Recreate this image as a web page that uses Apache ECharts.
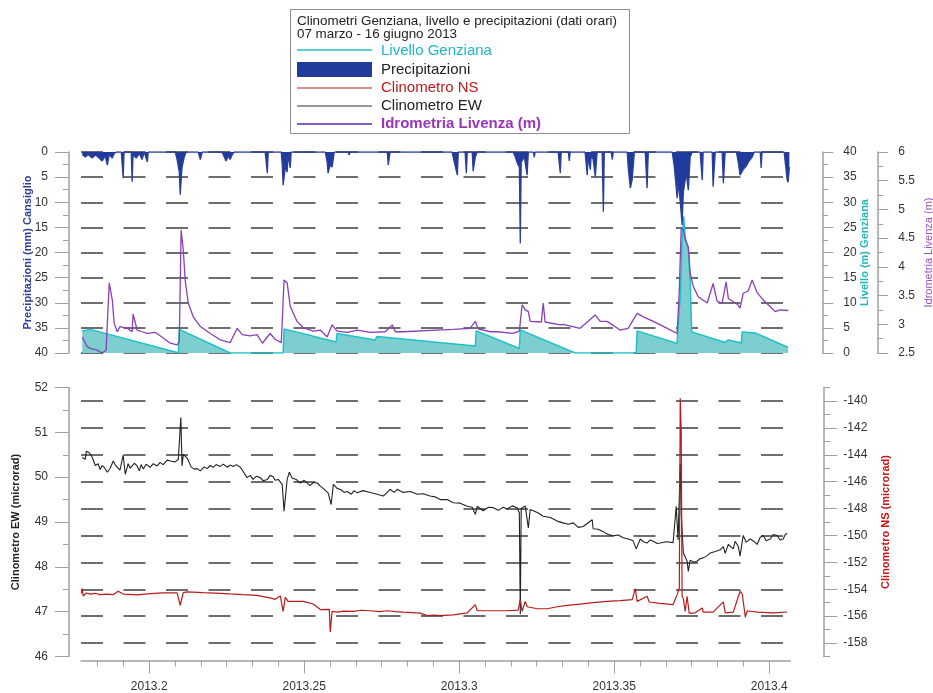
<!DOCTYPE html>
<html><head><meta charset="utf-8">
<script src="https://cdn.jsdelivr.net/npm/echarts@6/dist/echarts.min.js"></script>
<style>html,body{margin:0;padding:0;background:#fff}#c{width:933px;height:693px}</style>
</head><body><div id="c"></div>
<script>
// ---------- DATA (x = decimal year) ----------
const xTickLabels = [2013.2, 2013.25, 2013.3, 2013.35, 2013.4];
const precipTicks = [0, 5, 10, 15, 20, 25, 30, 35, 40];
const nsLabelValues = [-158, -156, -154, -152, -150, -148, -146, -144, -142, -140];

const livelloGenziana = [
[2013.1784,4.4],[2013.1810,4.7],[2013.2084,0.2],[2013.2094,0],[2013.2097,4.7],[2013.2261,0],[2013.2432,0],[2013.2435,4.8],
[2013.2603,2.2],[2013.2606,3.9],[2013.2729,2.6],[2013.2735,3.3],[2013.3052,1.4],[2013.3055,4.4],[2013.3194,0.9],[2013.3197,4.6],
[2013.3374,0],[2013.3571,0],[2013.3574,4.4],[2013.3703,1.9],[2013.3706,5.2],[2013.3713,11.2],[2013.3719,22.5],[2013.3724,27.2],
[2013.3729,23],[2013.3739,20.5],[2013.3745,14.5],[2013.3750,4.2],[2013.3858,2.1],[2013.3868,2.6],[2013.3874,2.3],[2013.3910,2.0],
[2013.3913,4.2],[2013.3955,4.0],[2013.4061,1.1]
];

const precipitazioni = [
[2013.1784,0.5],[2013.1794,1.0],[2013.1803,0.5],[2013.1816,1.2],[2013.1826,0.6],[2013.1835,1.0],[2013.1848,1.8],[2013.1858,0.8],
[2013.1865,2.6],[2013.1871,0.5],[2013.1881,1.2],[2013.1887,0.3],[2013.1894,0],[2013.1910,0],[2013.1916,5.2],[2013.1919,0],
[2013.1942,0],[2013.1945,5.9],[2013.1948,0.5],[2013.1958,1.2],[2013.1968,0.3],[2013.1977,1.5],[2013.1984,0],[2013.1990,0],
[2013.1994,2],[2013.1997,0],[2013.2084,0],[2013.2090,1.5],[2013.2097,4],[2013.2100,8.5],[2013.2106,3],[2013.2113,1],[2013.2119,0],
[2013.2158,0],[2013.2165,1.5],[2013.2171,0],[2013.2235,0],[2013.2242,1],[2013.2248,1.8],[2013.2255,0.8],[2013.2261,1.5],
[2013.2268,0.5],[2013.2274,0],[2013.2374,0],[2013.2381,4.2],[2013.2384,0],[2013.2426,0],[2013.2429,2.5],[2013.2432,6.6],
[2013.2439,3],[2013.2445,4],[2013.2448,0.5],[2013.2455,3.2],[2013.2458,0],[2013.2568,0],[2013.2574,2],[2013.2577,4.2],
[2013.2584,2.5],[2013.2590,3],[2013.2597,0],[2013.2642,0],[2013.2645,0.6],[2013.2648,0],[2013.2768,0],[2013.2771,2.6],
[2013.2777,0],[2013.2977,0],[2013.2984,2],[2013.2994,4.6],[2013.2997,0],[2013.3019,0],[2013.3023,4.2],[2013.3026,0],
[2013.3042,0],[2013.3045,3.8],[2013.3052,1],[2013.3058,0],[2013.3174,0],[2013.3181,1],[2013.3187,2.2],[2013.3194,3],
[2013.3197,18.2],[2013.3200,2],[2013.3210,1],[2013.3219,4.6],[2013.3223,0],[2013.3239,0],[2013.3242,1],[2013.3245,0],
[2013.3319,0],[2013.3326,4.2],[2013.3329,0],[2013.3352,0],[2013.3355,1.8],[2013.3358,0],[2013.3406,0],[2013.3413,4.6],
[2013.3416,1],[2013.3423,3.5],[2013.3426,0.5],[2013.3432,1.5],[2013.3439,4.9],[2013.3445,0],[2013.3461,0],[2013.3465,11.9],
[2013.3468,0],[2013.3490,0],[2013.3494,1.5],[2013.3497,0],[2013.3542,0],[2013.3545,3],[2013.3552,7.2],[2013.3558,5.5],
[2013.3565,0],[2013.3600,0],[2013.3606,7.2],[2013.3610,0],[2013.3687,0],[2013.3694,3],[2013.3703,9.2],[2013.3706,6],
[2013.3713,9.9],[2013.3719,14.5],[2013.3723,8],[2013.3729,5.6],[2013.3732,4],[2013.3739,7.6],[2013.3745,1],[2013.3752,0],
[2013.3777,0],[2013.3784,5.6],[2013.3787,0],[2013.3816,0],[2013.3819,6.9],[2013.3826,0],[2013.3848,0],[2013.3852,6.2],
[2013.3858,0],[2013.3894,0],[2013.3900,2],[2013.3906,4.6],[2013.3916,3.5],[2013.3926,2.8],[2013.3935,1.8],[2013.3945,1],
[2013.3952,0],[2013.3971,0],[2013.3974,3.2],[2013.3977,0],[2013.4048,0],[2013.4058,5.6],[2013.4061,6],[2013.4065,3]
];

const idrometriaLivenza = [
[2013.1784,2.78],[2013.1800,2.61],[2013.1810,2.58],[2013.1832,2.55],[2013.1848,2.5],[2013.1861,2.55],[2013.1871,3.72],[2013.1881,3.42],
[2013.1887,3.02],[2013.1897,2.87],[2013.1906,2.96],[2013.1929,2.93],[2013.1945,2.87],[2013.1948,3.18],[2013.1961,2.9],[2013.1977,2.87],
[2013.1994,2.84],[2013.2019,2.86],[2013.2035,2.8],[2013.2068,2.67],[2013.2090,2.64],[2013.2097,2.7],[2013.2103,4.64],[2013.2110,4.29],
[2013.2116,3.77],[2013.2126,3.37],[2013.2142,3.13],[2013.2165,2.96],[2013.2197,2.84],[2013.2229,2.73],[2013.2261,2.68],[2013.2284,2.93],
[2013.2300,2.82],[2013.2326,2.8],[2013.2348,2.82],[2013.2365,2.67],[2013.2390,2.84],[2013.2406,2.74],[2013.2426,2.68],[2013.2435,3.77],
[2013.2445,3.72],[2013.2455,3.31],[2013.2477,3.05],[2013.2497,2.94],[2013.2529,2.88],[2013.2552,2.9],[2013.2574,2.78],[2013.2590,2.99],
[2013.2606,2.88],[2013.2639,2.86],[2013.2671,2.9],[2013.2713,2.86],[2013.2761,2.87],[2013.2784,2.99],[2013.2794,2.87],[2013.2819,2.87],
[2013.2929,2.9],[2013.2981,2.91],[2013.3035,2.93],[2013.3052,3.05],[2013.3061,2.92],[2013.3100,2.87],[2013.3123,2.87],[2013.3174,2.84],
[2013.3194,2.88],[2013.3203,3.34],[2013.3213,3.25],[2013.3223,3.22],[2013.3229,3.05],[2013.3265,3.04],[2013.3271,3.37],[2013.3277,3.04],
[2013.3326,2.99],[2013.3335,3.0],[2013.3390,2.93],[2013.3439,3.16],[2013.3455,3.05],[2013.3477,3.05],[2013.3519,2.9],[2013.3545,2.93],
[2013.3574,3.19],[2013.3594,3.13],[2013.3626,3.05],[2013.3671,2.93],[2013.3703,2.84],[2013.3710,3.6],[2013.3716,4.67],[2013.3723,4.65],
[2013.3729,4.47],[2013.3739,4.35],[2013.3745,3.89],[2013.3755,3.66],[2013.3771,3.48],[2013.3800,3.37],[2013.3819,3.71],[2013.3832,3.4],
[2013.3848,3.37],[2013.3861,3.74],[2013.3868,3.45],[2013.3897,3.35],[2013.3906,3.28],[2013.3916,3.54],[2013.3932,3.58],[2013.3945,3.77],
[2013.3961,3.55],[2013.3981,3.42],[2013.4003,3.31],[2013.4019,3.22],[2013.4035,3.25],[2013.4061,3.24]
];

const clinometroEW = [
[2013.1784,50.44],[2013.1794,50.40],[2013.1797,50.58],[2013.1806,50.55],[2013.1816,50.45],[2013.1826,50.26],[2013.1835,50.30],[2013.1842,50.17],
[2013.1848,50.26],[2013.1855,50.22],[2013.1865,50.11],[2013.1874,50.20],[2013.1884,50.36],[2013.1890,50.28],[2013.1897,50.22],[2013.1906,50.16],
[2013.1916,50.49],[2013.1923,50.06],[2013.1932,50.30],[2013.1939,50.20],[2013.1945,50.16],[2013.1952,50.31],[2013.1961,50.25],[2013.1968,50.14],
[2013.1974,50.28],[2013.1981,50.18],[2013.1990,50.29],[2013.2003,50.22],[2013.2013,50.30],[2013.2026,50.25],[2013.2035,50.33],[2013.2045,50.28],
[2013.2058,50.38],[2013.2068,50.36],[2013.2084,50.34],[2013.2094,50.40],[2013.2100,50.38],[2013.2102,51.33],[2013.2106,50.25],[2013.2110,50.51],
[2013.2123,50.42],[2013.2135,50.23],[2013.2145,50.18],[2013.2155,50.19],[2013.2165,50.14],[2013.2177,50.23],[2013.2187,50.19],[2013.2197,50.26],
[2013.2206,50.22],[2013.2216,50.28],[2013.2229,50.24],[2013.2239,50.29],[2013.2252,50.22],[2013.2261,50.27],[2013.2271,50.24],[2013.2281,50.28],
[2013.2294,50.22],[2013.2300,50.20],[2013.2316,49.99],[2013.2326,50.04],[2013.2335,49.95],[2013.2345,50.02],[2013.2358,49.99],[2013.2368,49.92],
[2013.2381,49.95],[2013.2390,50.04],[2013.2400,50.01],[2013.2406,49.93],[2013.2416,49.95],[2013.2429,49.84],[2013.2435,49.24],[2013.2445,49.95],
[2013.2452,50.11],[2013.2461,49.98],[2013.2474,49.95],[2013.2487,49.87],[2013.2500,49.93],[2013.2519,49.81],[2013.2529,49.88],[2013.2542,49.87],
[2013.2552,49.80],[2013.2561,49.75],[2013.2577,49.65],[2013.2587,49.39],[2013.2594,49.84],[2013.2606,49.75],[2013.2619,49.72],[2013.2629,49.66],
[2013.2639,49.68],[2013.2652,49.62],[2013.2661,49.70],[2013.2671,49.65],[2013.2690,49.70],[2013.2713,49.66],[2013.2735,49.62],[2013.2755,49.58],
[2013.2765,49.64],[2013.2777,49.73],[2013.2790,49.66],[2013.2800,49.73],[2013.2819,49.66],[2013.2842,49.68],[2013.2865,49.62],[2013.2884,49.63],
[2013.2906,49.58],[2013.2923,49.56],[2013.2939,49.50],[2013.2961,49.50],[2013.2981,49.43],[2013.3003,49.42],[2013.3026,49.35],[2013.3042,49.33],
[2013.3052,49.17],[2013.3058,49.35],[2013.3077,49.25],[2013.3094,49.33],[2013.3110,49.32],[2013.3126,49.26],[2013.3142,49.33],[2013.3155,49.29],
[2013.3171,49.36],[2013.3187,49.32],[2013.3194,49.2],[2013.3197,46.94],[2013.3200,49.3],[2013.3213,49.36],[2013.3223,48.87],[2013.3229,49.28],
[2013.3252,49.21],[2013.3271,49.13],[2013.3294,49.10],[2013.3316,49.02],[2013.3335,48.98],[2013.3352,48.95],[2013.3368,48.98],[2013.3384,48.88],
[2013.3400,48.90],[2013.3429,49.05],[2013.3432,48.85],[2013.3448,48.84],[2013.3465,48.78],[2013.3481,48.72],[2013.3497,48.69],[2013.3513,48.71],
[2013.3529,48.65],[2013.3545,48.62],[2013.3561,48.58],[2013.3571,48.40],[2013.3584,48.62],[2013.3594,48.56],[2013.3606,48.53],[2013.3616,48.60],
[2013.3626,48.57],[2013.3639,48.52],[2013.3648,48.53],[2013.3668,48.56],[2013.3690,48.54],[2013.3700,49.35],[2013.3706,48.60],[2013.3713,50.30],
[2013.3716,49.20],[2013.3723,48.31],[2013.3735,48.13],[2013.3739,47.90],[2013.3745,48.15],[2013.3758,48.10],[2013.3768,48.13],[2013.3777,48.18],
[2013.3787,48.20],[2013.3800,48.25],[2013.3810,48.31],[2013.3826,48.34],[2013.3842,48.38],[2013.3852,48.45],[2013.3858,48.30],[2013.3868,48.50],
[2013.3874,48.48],[2013.3884,48.40],[2013.3890,48.57],[2013.3900,48.46],[2013.3906,48.24],[2013.3916,48.70],[2013.3926,48.55],[2013.3939,48.62],
[2013.3952,48.56],[2013.3961,48.50],[2013.3971,48.66],[2013.3981,48.70],[2013.3990,48.58],[2013.4003,48.62],[2013.4013,48.72],[2013.4026,48.70],
[2013.4035,48.60],[2013.4045,48.62],[2013.4052,48.72],[2013.4058,48.75]
];

const clinometroNS = [
[2013.1781,-154.3],[2013.1784,-153.95],[2013.1787,-154.5],[2013.1797,-154.28],[2013.1810,-154.36],[2013.1826,-154.3],[2013.1842,-154.4],
[2013.1865,-154.36],[2013.1884,-154.40],[2013.1900,-154.15],[2013.1916,-154.36],[2013.1961,-154.42],[2013.2003,-154.32],[2013.2045,-154.27],
[2013.2090,-154.27],[2013.2100,-155.19],[2013.2110,-154.25],[2013.2123,-154.2],[2013.2174,-154.25],[2013.2229,-154.3],[2013.2261,-154.35],
[2013.2303,-154.4],[2013.2348,-154.45],[2013.2390,-154.64],[2013.2406,-154.75],[2013.2423,-154.5],[2013.2432,-155.64],[2013.2439,-154.6],
[2013.2448,-154.9],[2013.2497,-154.9],[2013.2529,-155.1],[2013.2552,-155.51],[2013.2581,-155.5],[2013.2584,-157.17],[2013.2590,-155.64],
[2013.2606,-155.7],[2013.2629,-155.62],[2013.2658,-155.64],[2013.2684,-155.56],[2013.2713,-155.60],[2013.2742,-155.66],[2013.2768,-155.60],
[2013.2794,-155.66],[2013.2819,-155.7],[2013.2848,-155.74],[2013.2874,-155.78],[2013.2897,-155.96],[2013.2919,-155.92],
[2013.2939,-155.96],[2013.2981,-155.9],[2013.3026,-155.75],[2013.3052,-155.14],[2013.3058,-155.6],[2013.3100,-155.6],[2013.3155,-155.6],
[2013.3190,-155.55],[2013.3197,-154.77],[2013.3203,-155.65],[2013.3213,-154.9],[2013.3219,-155.3],[2013.3252,-155.45],[2013.3284,-155.45],
[2013.3316,-155.3],[2013.3348,-155.2],[2013.3390,-155.1],[2013.3432,-155.0],[2013.3477,-154.9],[2013.3519,-154.85],[2013.3558,-154.77],
[2013.3568,-153.95],[2013.3574,-154.9],[2013.3606,-154.52],[2013.3613,-154.95],[2013.3648,-155.05],[2013.3690,-155.14],[2013.3703,-154.4],
[2013.3710,-153.9],[2013.3713,-139.8],[2013.3716,-142.2],[2013.3719,-154.5],[2013.3723,-154.7],[2013.3729,-155.64],[2013.3735,-154.52],
[2013.3742,-155.8],[2013.3761,-155.75],[2013.3784,-155.39],[2013.3787,-155.7],[2013.3819,-155.7],[2013.3852,-154.94],[2013.3858,-155.75],
[2013.3884,-155.7],[2013.3906,-154.15],[2013.3913,-154.35],[2013.3923,-156.08],[2013.3929,-155.6],[2013.3961,-155.7],[2013.4013,-155.75],
[2013.4058,-155.69]
];

// ---------- CHART ----------
const XMIN = 2013.178, XMAX = 2013.4068;
const FONT = 'Liberation Sans, Arial, sans-serif';
const AX = '#a0a0a0';
const GRID_DASH = { type: [22, 20.5], color: '#6e6e6e', width: 1.8 };

const xMinor = [];
for (let k = -3; k <= 25; k++) {
  const v = +(2013.2 + k * 0.05 / 6).toFixed(5);
  if (v >= XMIN && v <= XMAX) xMinor.push(v);
}
const nsEven = nsLabelValues;

const lbl = { color: '#333', fontSize: 12, fontFamily: FONT };

const chart = echarts.init(document.getElementById('c'), null, { renderer: 'canvas' });
chart.setOption({
  animation: false,
  backgroundColor: '#fff',
  grid: [
    { left: 81, right: 142.7, top: 152, height: 201, outerBoundsMode: 'none', containLabel: false },
    { left: 81, right: 142.7, top: 387.5, height: 269, outerBoundsMode: 'none', containLabel: false }
  ],
  xAxis: [
    { gridIndex: 0, type: 'value', min: XMIN, max: XMAX, show: false },
    { gridIndex: 1, type: 'value', position: 'bottom', min: XMIN, max: XMAX, offset: 4,
      axisLine: { lineStyle: { color: AX, width: 1.5 } },
      axisTick: { customValues: xTickLabels, length: 13, lineStyle: { color: AX } },
      axisLabel: { customValues: xTickLabels, margin: 20, ...lbl,
        formatter: v => String(Math.round(v * 100) / 100) },
      splitLine: { show: false } },
    { gridIndex: 1, type: 'value', position: 'bottom', min: XMIN, max: XMAX, offset: 4,
      axisLine: { show: false },
      axisTick: { customValues: xMinor, length: 6, lineStyle: { color: AX } },
      axisLabel: { show: false }, splitLine: { show: false } }
  ],
  yAxis: [
    { gridIndex: 0, type: 'value', position: 'left', offset: 12, inverse: true, min: 0, max: 40, interval: 5,
      name: 'Precipitazioni (mm) Cansiglio', nameLocation: 'middle', nameRotate: 90, nameGap: 36, nameMoveOverlap: false,
      nameTextStyle: { color: '#2b3c9e', fontWeight: 'bold', fontSize: 11, fontFamily: FONT },
      axisLine: { show: true, lineStyle: { color: AX, width: 1.5 } },
      axisTick: { length: 14, lineStyle: { color: AX } },
      minorTick: { show: true, splitNumber: 2, length: 6, lineStyle: { color: AX } },
      axisLabel: { margin: 21, ...lbl },
      splitLine: { show: true, lineStyle: GRID_DASH } },
    { gridIndex: 0, type: 'value', position: 'right', offset: 32, min: 0, max: 40, interval: 5,
      name: 'Livello (m) Genziana', nameLocation: 'middle', nameRotate: 90, nameGap: 37, nameMoveOverlap: false,
      nameTextStyle: { color: '#1fb6bf', fontWeight: 'bold', fontSize: 11, fontFamily: FONT },
      axisLine: { show: true, lineStyle: { color: AX, width: 1.5 } },
      axisTick: { length: 11, lineStyle: { color: AX } },
      minorTick: { show: true, splitNumber: 2, length: 6, lineStyle: { color: AX } },
      axisLabel: { margin: 21, ...lbl }, splitLine: { show: false } },
    { gridIndex: 0, type: 'value', position: 'right', offset: 87, min: 2.5, max: 6, interval: 0.5,
      name: 'Idrometria Livenza (m)', nameLocation: 'middle', nameRotate: 90, nameGap: 46, nameMoveOverlap: false,
      nameTextStyle: { color: '#9b4fc2', fontSize: 11, fontFamily: FONT },
      axisLine: { show: true, lineStyle: { color: AX, width: 1.5 } },
      axisTick: { length: 11, lineStyle: { color: AX } },
      minorTick: { show: true, splitNumber: 2, length: 6, lineStyle: { color: AX } },
      axisLabel: { margin: 21, ...lbl }, splitLine: { show: false } },
    { gridIndex: 1, type: 'value', position: 'left', offset: 12, min: 46, max: 52, interval: 1,
      name: 'Clinometro EW (microrad)', nameLocation: 'middle', nameRotate: 90, nameGap: 48, nameMoveOverlap: false,
      nameTextStyle: { color: '#222', fontWeight: 'bold', fontSize: 11, fontFamily: FONT },
      axisLine: { show: true, lineStyle: { color: AX, width: 1.5 } },
      axisTick: { length: 14, lineStyle: { color: AX } },
      minorTick: { show: true, splitNumber: 2, length: 6, lineStyle: { color: AX } },
      axisLabel: { margin: 21, ...lbl }, splitLine: { show: false } },
    { gridIndex: 1, type: 'value', position: 'right', offset: 33, min: -159, max: -139, interval: 1,
      name: 'Clinometro NS (microrad)', nameLocation: 'middle', nameRotate: 90, nameGap: 57, nameMoveOverlap: false,
      nameTextStyle: { color: '#c81414', fontWeight: 'bold', fontSize: 11, fontFamily: FONT },
      axisLine: { show: true, lineStyle: { color: AX, width: 1.5 } },
      axisTick: { customValues: nsEven, length: 14, lineStyle: { color: AX } },
      axisLabel: { customValues: nsEven, margin: 20, ...lbl,
        formatter: v => (Math.round(v) % 2 === 0 ? String(Math.round(v)) : '') },
      splitLine: { show: false } },
    { gridIndex: 1, type: 'value', position: 'right', offset: 33, min: -159, max: -139, interval: 1,
      axisLine: { show: false },
      axisTick: { length: 7, lineStyle: { color: AX } },
      axisLabel: { show: false },
      splitLine: { show: true, lineStyle: { ...GRID_DASH, color: ['rgba(0,0,0,0)', '#6e6e6e'] } } }
  ],
  series: [
    { name: 'Livello Genziana', type: 'line', xAxisIndex: 0, yAxisIndex: 1, data: livelloGenziana,
      symbol: 'none', lineStyle: { color: '#1cc0cc', width: 1.5 },
      areaStyle: { color: '#7dcfcf', opacity: 1 }, z: 2 },
    { name: 'Precipitazioni', type: 'line', xAxisIndex: 0, yAxisIndex: 0, data: precipitazioni,
      symbol: 'none', lineStyle: { color: '#2a3f9a', width: 1.3 },
      areaStyle: { color: '#1f3c9c', opacity: 1 }, z: 3 },
    { name: 'Idrometria Livenza (m)', type: 'line', xAxisIndex: 0, yAxisIndex: 2, data: idrometriaLivenza,
      symbol: 'none', lineStyle: { color: '#8a3fb6', width: 1.3 }, z: 4 },
    { name: 'Clinometro EW', type: 'line', xAxisIndex: 1, yAxisIndex: 3, data: clinometroEW,
      symbol: 'none', lineStyle: { color: '#222', width: 1.1 }, z: 3 },
    { name: 'Clinometro NS', type: 'line', xAxisIndex: 1, yAxisIndex: 4, data: clinometroNS,
      symbol: 'none', lineStyle: { color: '#b71c1c', width: 1.2 }, z: 4 }
  ],
  graphic: [
    { type: 'rect', shape: { x: 290.5, y: 9.5, width: 339, height: 124 },
      style: { fill: '#fff', stroke: '#8c8c8c', lineWidth: 1 } },
    { type: 'text', x: 297, y: 21, style: { text: 'Clinometri Genziana, livello e precipitazioni (dati orari)',
      fill: '#222', font: '13.4px ' + FONT, verticalAlign: 'middle' } },
    { type: 'text', x: 297, y: 34.5, style: { text: '07 marzo - 16 giugno 2013',
      fill: '#222', font: '13.4px ' + FONT, verticalAlign: 'middle' } },
    { type: 'line', shape: { x1: 297, y1: 50, x2: 372, y2: 50 }, style: { stroke: '#1cc0cc', lineWidth: 1.3 } },
    { type: 'text', x: 381, y: 50.5, style: { text: 'Livello Genziana', fill: '#1cb8c6', font: '15px ' + FONT, verticalAlign: 'middle' } },
    { type: 'rect', shape: { x: 297, y: 62, width: 75, height: 15 }, style: { fill: '#1f3c9c' } },
    { type: 'text', x: 381, y: 69.5, style: { text: 'Precipitazioni', fill: '#222', font: '15px ' + FONT, verticalAlign: 'middle' } },
    { type: 'line', shape: { x1: 297, y1: 88, x2: 372, y2: 88 }, style: { stroke: '#b71c1c', lineWidth: 1.2 } },
    { type: 'text', x: 381, y: 88, style: { text: 'Clinometro NS', fill: '#c01818', font: '15px ' + FONT, verticalAlign: 'middle' } },
    { type: 'line', shape: { x1: 297, y1: 106, x2: 372, y2: 106 }, style: { stroke: '#333', lineWidth: 1.2 } },
    { type: 'text', x: 381, y: 106, style: { text: 'Clinometro EW', fill: '#222', font: '15px ' + FONT, verticalAlign: 'middle' } },
    { type: 'line', shape: { x1: 297, y1: 124, x2: 372, y2: 124 }, style: { stroke: '#5a2bb0', lineWidth: 1.3 } },
    { type: 'text', x: 381, y: 124, style: { text: 'Idrometria Livenza (m)', fill: '#9a35b5', font: 'bold 15px ' + FONT, verticalAlign: 'middle' } }
  ]
});
</script>
</body></html>
